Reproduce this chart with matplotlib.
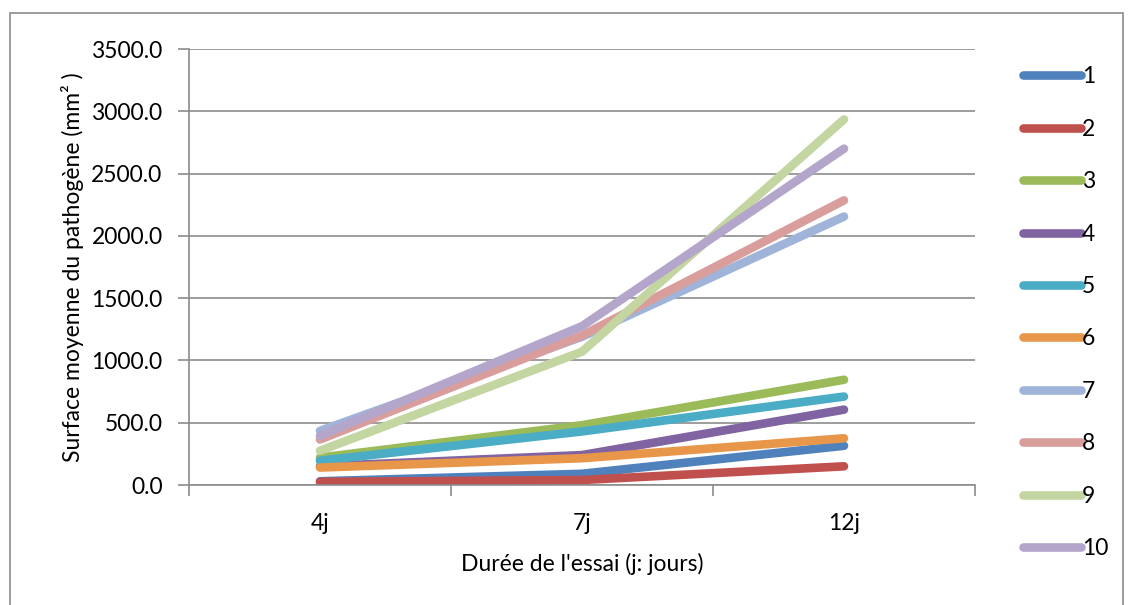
import matplotlib.pyplot as plt
from matplotlib.patches import Rectangle

plt.rcParams['font.family'] = ['Lato', 'DejaVu Sans']

# durée de l'essai
jours = ['4j', '7j', '12j']

# surface moyenne du pathogène (mm²) par traitement
s1 = [30, 90, 315]
s2 = [25, 40, 150]
s3 = [220, 480, 845]
s4 = [150, 240, 605]
s5 = [195, 430, 710]
s6 = [140, 215, 375]
s7 = [435, 1190, 2155]
s8 = [365, 1200, 2285]
s9 = [275, 1070, 2935]
s10 = [395, 1275, 2700]

series = [s1, s2, s3, s4, s5, s6, s7, s8, s9, s10]
noms = ['1', '2', '3', '4', '5', '6', '7', '8', '9', '10']
couleurs = ['#4F81BD', '#C0504D', '#9BBB59', '#8064A2', '#4BACC6',
            '#E8964A', '#9FB4D8', '#D99E9C', '#C3D5A0', '#B3A6CA']

fs = 16.5

fig = plt.figure(figsize=(11.31, 6.05), dpi=100)
ax = fig.add_axes([189 / 1131, 1 - 485 / 605, (975 - 189) / 1131, (485 - 49) / 605])

# cadre gris autour du graphique
fig.patches.append(Rectangle((10 / 1131, -0.1), (1123 - 10) / 1131, 1.1 - 13 / 605,
                             transform=fig.transFigure, fill=False,
                             edgecolor='#8c8c8c', linewidth=1.2))

x = [0.5, 1.5, 2.5]
for vals, nom, c in zip(series, noms, couleurs):
    ax.plot(x, vals, color=c, lw=6.2, solid_capstyle='round', label=nom)

ax.set_xlim(0, 3)
ax.set_ylim(0, 3500)
ax.set_yticks(range(0, 3501, 500))
ax.set_yticklabels(['%.1f' % v for v in range(0, 3501, 500)])
ax.yaxis.grid(True, color='#8c8c8c', lw=1.2)
ax.set_axisbelow(True)

ax.set_xticks([0, 1, 2, 3])
ax.set_xticklabels([])
ax.set_xticks(x, minor=True)
ax.set_xticklabels(jours, minor=True)
ax.tick_params(axis='x', which='minor', length=0, pad=20, labelsize=fs)
ax.tick_params(axis='x', which='major', length=8, color='#8c8c8c', width=1.2)
ax.tick_params(axis='y', length=8, color='#8c8c8c', width=1.2, labelsize=fs, pad=11)

for s in ['top', 'right']:
    ax.spines[s].set_visible(False)
for s in ['left', 'bottom']:
    ax.spines[s].set_color('#8c8c8c')
    ax.spines[s].set_linewidth(1.2)

ax.set_xlabel("Durée de l'essai (j: jours)", fontsize=fs, labelpad=14)
ax.set_ylabel('Surface moyenne du pathogène (mm² )', fontsize=fs, labelpad=5)

leg = fig.legend(loc='upper left', bbox_to_anchor=(1012 / 1131, 1 - 55 / 605),
                 frameon=False, fontsize=fs, handlelength=2.5, handletextpad=0.05,
                 labelspacing=1.37, borderpad=0)
for h in leg.get_lines():
    h.set_solid_capstyle('round')
    h.set_linewidth(6.2)

fig.savefig('out.png', dpi=100)
